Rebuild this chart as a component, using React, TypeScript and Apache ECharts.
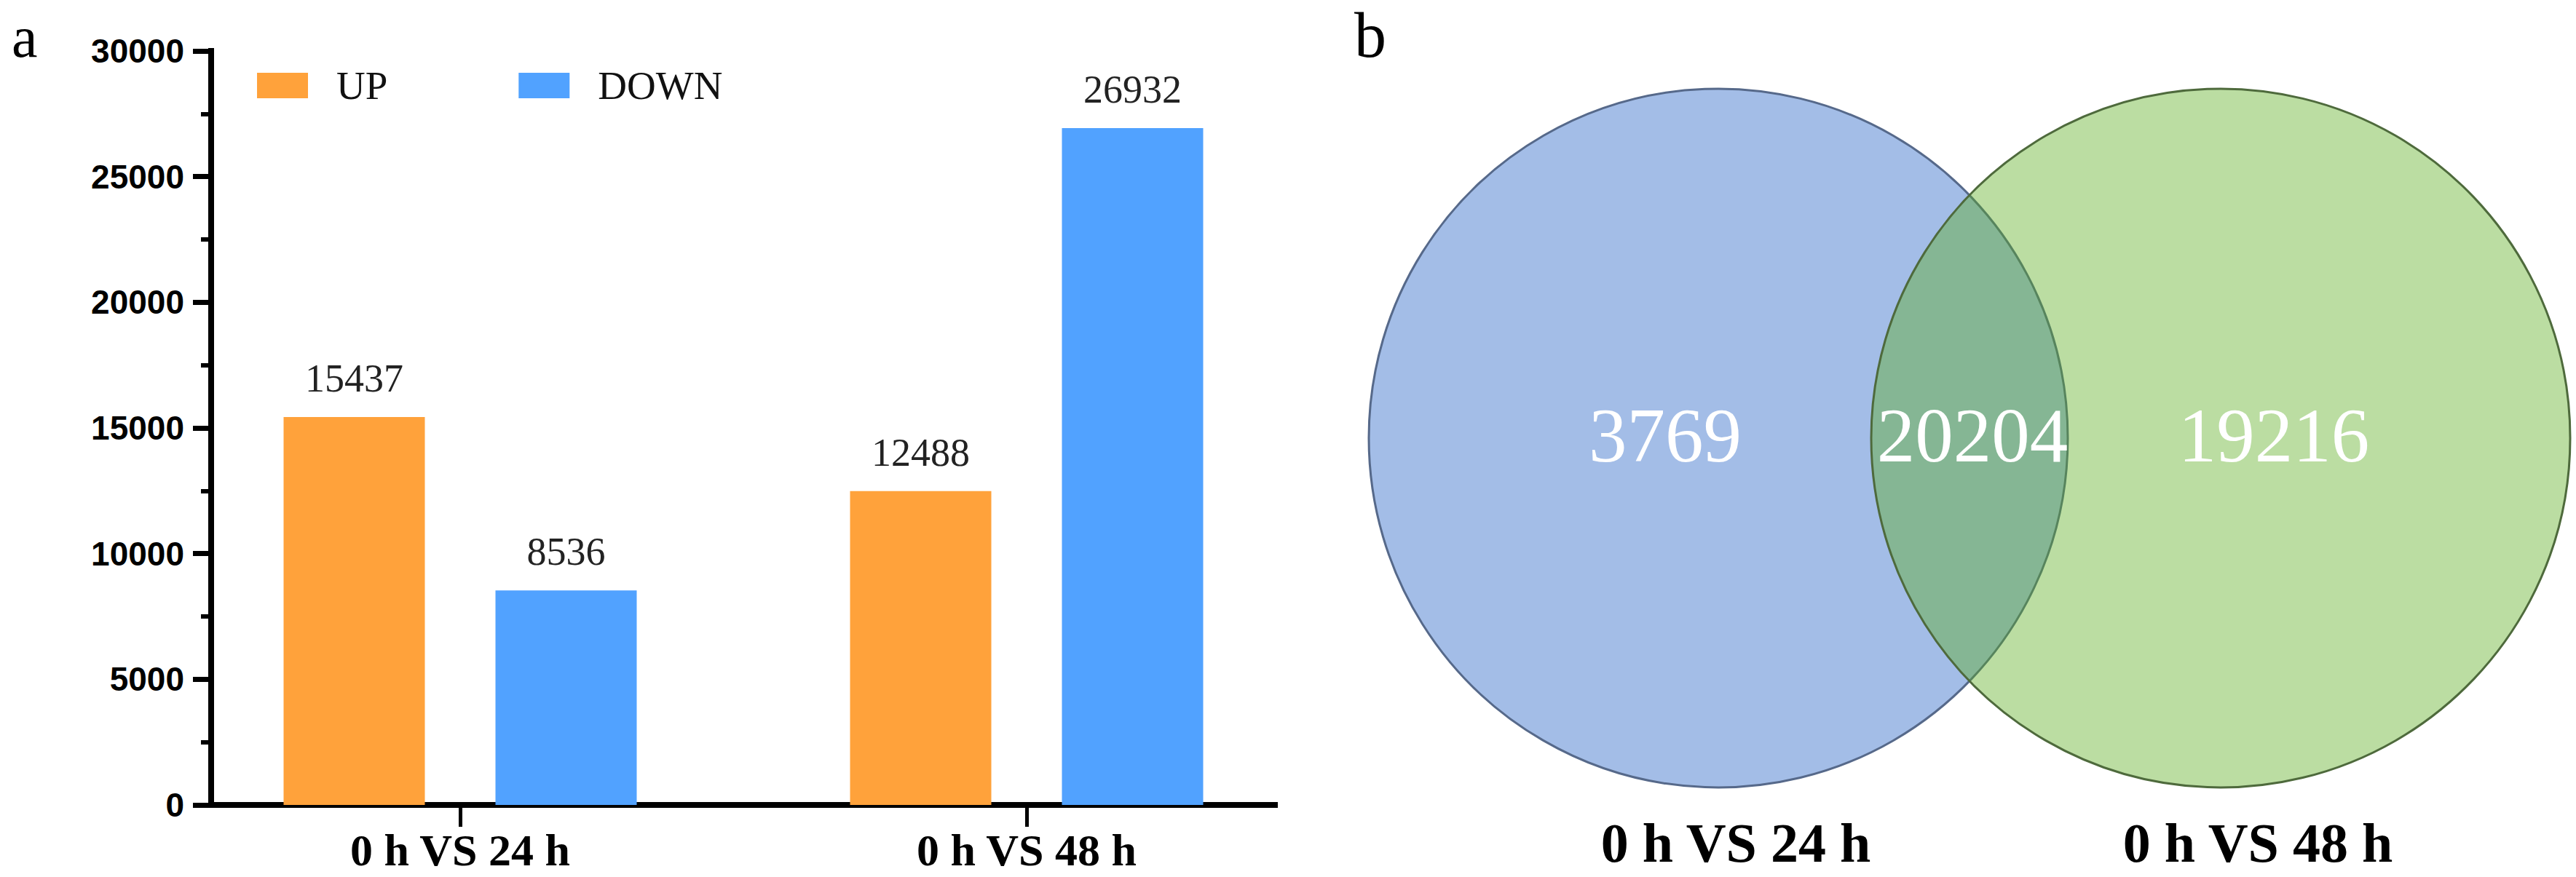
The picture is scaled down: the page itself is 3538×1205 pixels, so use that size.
import React, { useEffect, useRef } from 'react';
import * as echarts from 'echarts';

// ---- data ----
const categories = ['0 h VS 24 h', '0 h VS 48 h'];
const seriesNames = ['UP', 'DOWN'];
const upValues = [15437, 12488];
const downValues = [8536, 26932];
const yMin = 0;
const yMax = 30000;
const yInterval = 5000;
const yMinorInterval = 2500;

const vennSets = ['0 h VS 24 h', '0 h VS 48 h'];
// only first set, intersection, only second set
const vennCounts = [3769, 20204, 19216];

const SERIF = '"Liberation Serif", "Times New Roman", serif';
const SANS = '"Liberation Sans", Arial, sans-serif';

export default function App() {
  const ref = useRef<HTMLDivElement>(null);

  useEffect(() => {
    const chart = echarts.init(ref.current as HTMLDivElement, null, { renderer: 'svg' });

    const frameLine = { show: true, lineStyle: { color: '#000', width: 8, cap: 'square' } };

    const option: any = {
      animation: false,
      backgroundColor: '#fff',
      grid: [
        { left: 290, top: 70, width: 1461, height: 1036 },
        { left: 243, top: 70, width: 1556, height: 1036 },
      ],
      legend: {
        data: seriesNames,
        left: 353,
        top: 90,
        padding: 0,
        itemWidth: 70,
        itemHeight: 35,
        itemGap: 180,
        icon: 'rect',
        textStyle: {
          fontFamily: SERIF,
          fontSize: 55,
          color: '#111',
          padding: [0, 0, 0, 34],
        },
      },
      xAxis: [
        {
          gridIndex: 0, type: 'value', min: 0, max: 1, position: 'bottom',
          axisLine: frameLine, axisTick: { show: false }, axisLabel: { show: false }, splitLine: { show: false },
        },
        {
          gridIndex: 0, type: 'value', min: 0, max: 1, position: 'top',
          axisLine: frameLine, axisTick: { show: false }, axisLabel: { show: false }, splitLine: { show: false },
        },
        {
          gridIndex: 1, type: 'category', data: categories, position: 'bottom',
          axisLine: { show: false },
          axisTick: { show: true, alignWithLabel: true, length: 30, lineStyle: { color: '#000', width: 5 } },
          axisLabel: {
            fontFamily: SERIF, fontWeight: 'bold', fontSize: 62, color: '#000',
            margin: 62, verticalAlign: 'middle',
          },
          splitLine: { show: false },
        },
      ],
      yAxis: [
        {
          gridIndex: 0, type: 'value', min: yMin, max: yMax, interval: yInterval, position: 'left',
          axisLine: frameLine,
          axisTick: { show: true, length: 25, lineStyle: { color: '#000', width: 7 } },
          axisLabel: {
            fontFamily: SANS, fontWeight: 'bold', fontSize: 46, color: '#000', margin: 37,
            formatter: (v: number) => String(v),
          },
          splitLine: { show: false },
        },
        {
          gridIndex: 0, type: 'value', min: yMin, max: yMax, interval: yInterval, position: 'right',
          axisLine: frameLine, axisTick: { show: false }, axisLabel: { show: false }, splitLine: { show: false },
        },
        {
          gridIndex: 1, type: 'value', min: yMin, max: yMax, interval: yInterval, show: false,
          splitLine: { show: false },
        },
        {
          // minor ticks (half-interval) on the left axis
          gridIndex: 0, type: 'value', min: yMin, max: yMax, interval: yMinorInterval, position: 'left',
          axisLine: { show: false },
          axisTick: { show: true, length: 14, lineStyle: { color: '#000', width: 6 } },
          axisLabel: { show: false },
          splitLine: { show: false },
        },
      ],
      series: [
        {
          type: 'bar', name: seriesNames[0], xAxisIndex: 2, yAxisIndex: 2,
          data: upValues, barWidth: 194, barGap: '50%',
          itemStyle: { color: '#FFA23B' },
          label: { show: true, position: 'top', distance: 26, fontFamily: SERIF, fontSize: 54, color: '#222' },
        },
        {
          type: 'bar', name: seriesNames[1], xAxisIndex: 2, yAxisIndex: 2,
          data: downValues, barWidth: 194, barGap: '50%',
          itemStyle: { color: '#51A2FF' },
          label: { show: true, position: 'top', distance: 26, fontFamily: SERIF, fontSize: 54, color: '#222' },
        },
      ],
      graphic: [
        {
          type: 'text', x: 16, y: 51, z: 10,
          style: { text: 'a', fontFamily: SERIF, fontSize: 80, fill: '#000', align: 'left', verticalAlign: 'middle' },
        },
        {
          type: 'text', x: 1860, y: 48, z: 10,
          style: { text: 'b', fontFamily: SERIF, fontSize: 88, fill: '#000', align: 'left', verticalAlign: 'middle' },
        },
        {
          type: 'circle', z: 1,
          shape: { cx: 2360, cy: 602, r: 480 },
          style: { fill: '#A3BDE7', stroke: '#56698A', lineWidth: 3 },
        },
        {
          type: 'circle', z: 2,
          shape: { cx: 3050, cy: 602, r: 480 },
          style: { fill: 'rgba(89,172,30,0.41)', stroke: '#4E6A3C', lineWidth: 3 },
        },
        {
          type: 'text', x: 2287, y: 598, z: 5,
          style: { text: String(vennCounts[0]), fontFamily: SERIF, fontSize: 105, fill: '#fff', align: 'center', verticalAlign: 'middle' },
        },
        {
          type: 'text', x: 2709, y: 598, z: 5,
          style: { text: String(vennCounts[1]), fontFamily: SERIF, fontSize: 105, fill: '#fff', align: 'center', verticalAlign: 'middle' },
        },
        {
          type: 'text', x: 3123, y: 598, z: 5,
          style: { text: String(vennCounts[2]), fontFamily: SERIF, fontSize: 105, fill: '#fff', align: 'center', verticalAlign: 'middle' },
        },
        {
          type: 'text', x: 2384, y: 1158, z: 5,
          style: { text: vennSets[0], fontFamily: SERIF, fontWeight: 'bold', fontSize: 76, fill: '#000', align: 'center', verticalAlign: 'middle' },
        },
        {
          type: 'text', x: 3101, y: 1158, z: 5,
          style: { text: vennSets[1], fontFamily: SERIF, fontWeight: 'bold', fontSize: 76, fill: '#000', align: 'center', verticalAlign: 'middle' },
        },
      ],
    };

    chart.setOption(option);
    return () => chart.dispose();
  }, []);

  return (
    <div
      ref={ref}
      style={{ position: 'absolute', left: 0, top: 0, width: 3538, height: 1205, background: '#fff' }}
    />
  );
}
